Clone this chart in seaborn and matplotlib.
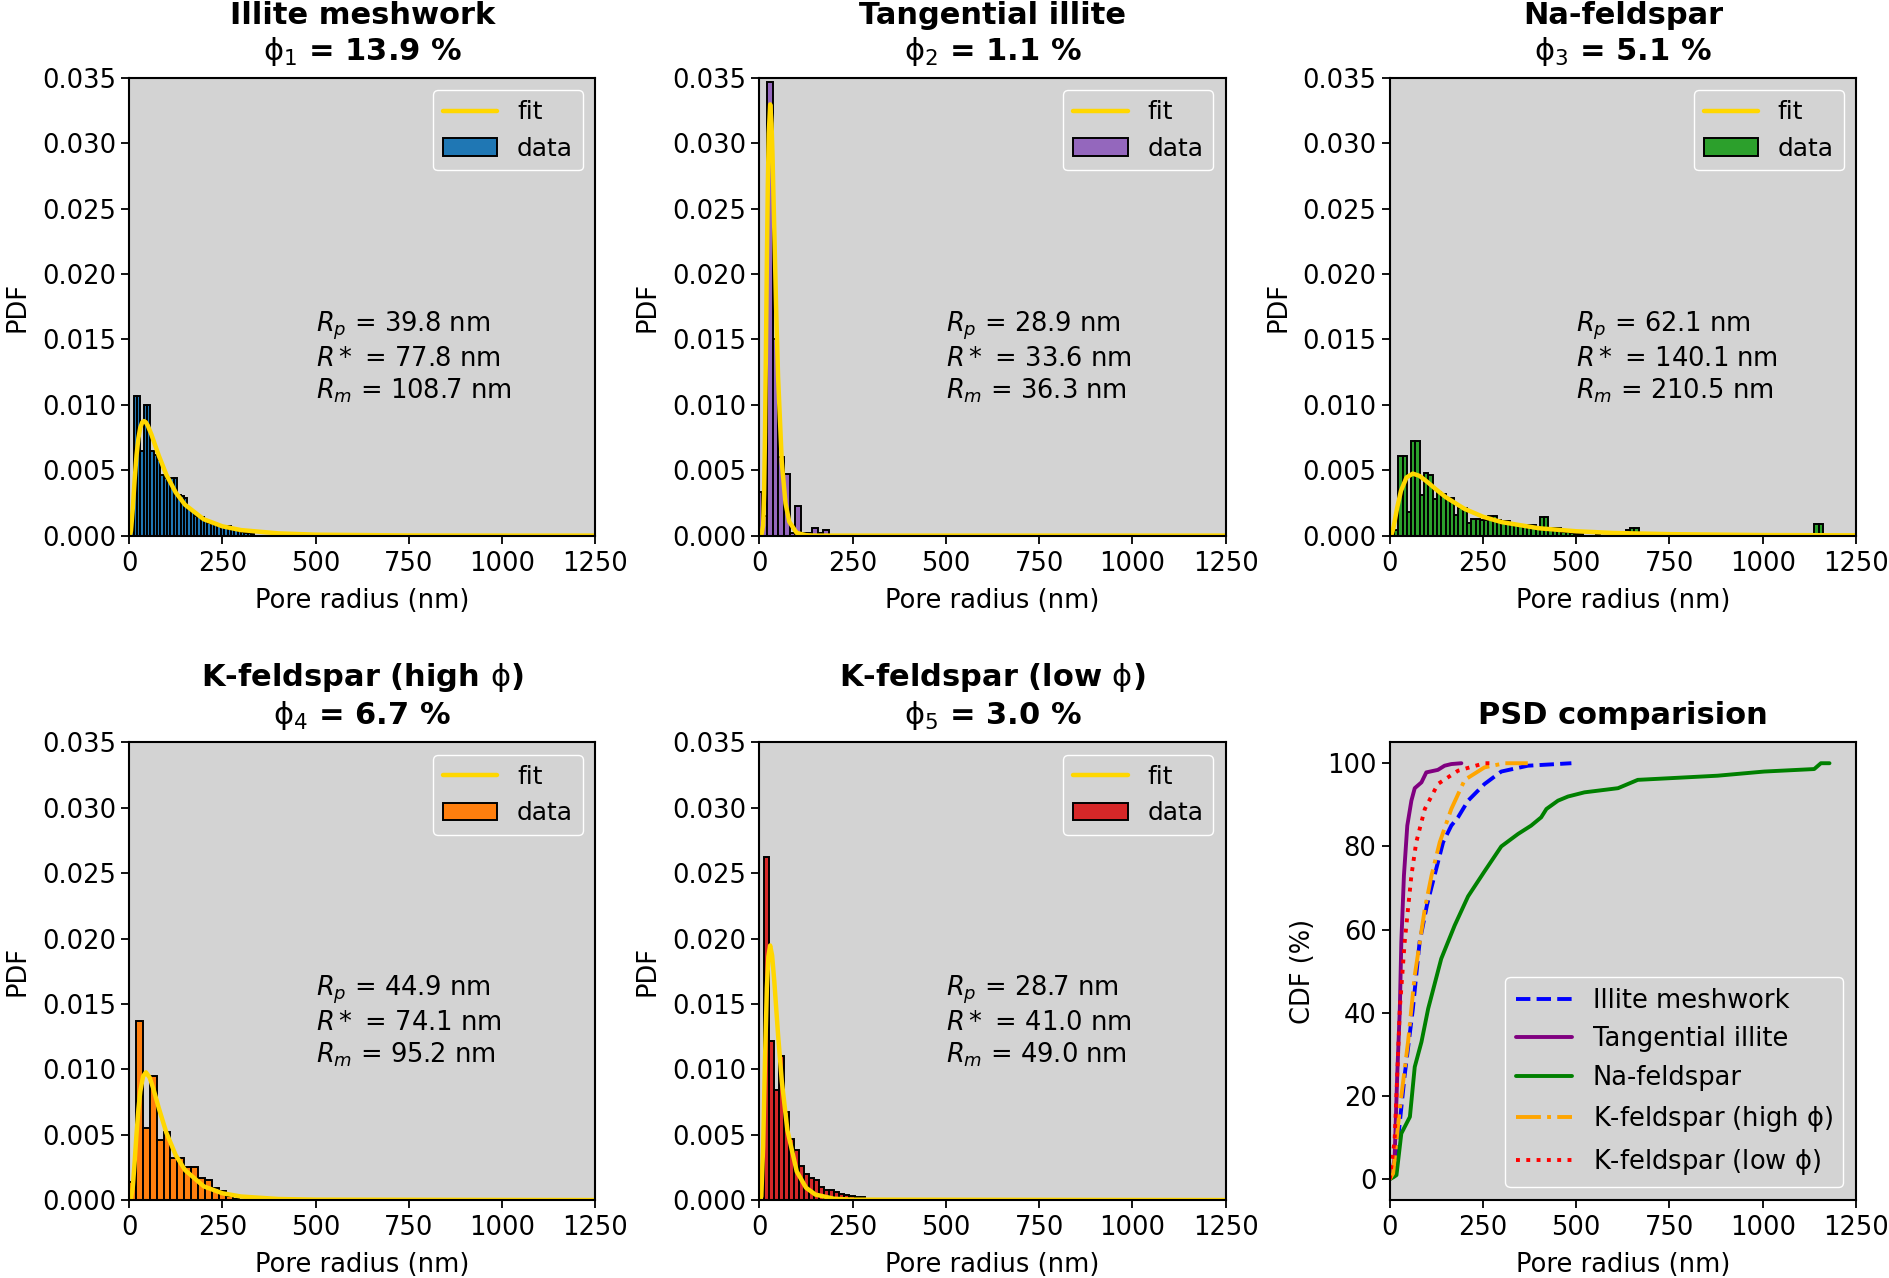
import numpy as np
import matplotlib
matplotlib.use("Agg")
import matplotlib.pyplot as plt
import seaborn as sns

# ---- histogram data (bin start, bin width, pdf heights) ----
illite_start, illite_width = 3, 9
illite_pdf = [0.0005, 0.0107, 0.0107, 0.0065, 0.0100, 0.0100, 0.0065, 0.0062, 0.0058,
              0.0046, 0.0044, 0.0042, 0.0044, 0.0044, 0.0031, 0.0030, 0.0029, 0.0020,
              0.0019, 0.0015, 0.0015, 0.0014, 0.0012, 0.0010, 0.0009, 0.0008, 0.0008,
              0.0007, 0.0007, 0.0007, 0.0006, 0.0005, 0.0004, 0.0003, 0.0002, 0.0002,
              0.0001]

tang_start, tang_width = -9, 15
tang_pdf = [0.0033, 0.0015, 0.0347, 0.0150, 0.0060, 0.0047, 0.0002, 0.0023, 0.0002,
            0.0002, 0.0006, 0.0002, 0.0004]

nafs_start, nafs_width = 0, 11.5
nafs_pdf = [0.0002, 0.0004, 0.0061, 0.0061, 0.0018, 0.0072, 0.0072, 0.0031, 0.0048,
            0.0046, 0.0028, 0.0033, 0.0032, 0.0029, 0.0029, 0.0016, 0.0021, 0.0021,
            0.0010, 0.0013, 0.0013, 0.0012, 0.0012, 0.0015, 0.0015, 0.0012, 0.0011,
            0.0011, 0.0010, 0.0009, 0.0008, 0.0008, 0.0008, 0.0008, 0.0006, 0.0014,
            0.0014, 0.0006, 0.0006, 0.0006, 0.0003, 0.0003, 0.0002, 0.0001]
# isolated large pores (radius nm, pdf)
nafs_tail_r = [515, 560, 626, 638, 650, 661, 1144, 1156]
nafs_tail_pdf = [0.0001, 0.0001, 0.0002, 0.0004, 0.0006, 0.0006, 0.0009, 0.0009]

kfh_start, kfh_width = 0, 18.5
kfh_pdf = [0.0014, 0.0137, 0.0055, 0.0095, 0.0046, 0.0052, 0.0032, 0.0032, 0.0025,
           0.0025, 0.0017, 0.0015, 0.0009, 0.0007, 0.0003, 0.0001]

kfl_start, kfl_width = 12, 13.5
kfl_pdf = [0.0262, 0.0122, 0.0084, 0.0110, 0.0067, 0.0047, 0.0038, 0.0026, 0.0020,
           0.0017, 0.0015, 0.0010, 0.0008, 0.0008, 0.0006, 0.0005, 0.0004, 0.0003,
           0.0002, 0.0002, 0.0001]

# ---- fitted curves, points ----
illite_fit_r = [0, 2, 5, 10, 15, 20, 25, 30, 35, 40, 45, 50, 60, 70, 80, 100, 125, 150,
                200, 250, 300, 400, 500, 750, 1000, 1250]
illite_fit = [0, 0.00001, 0.00035, 0.00211, 0.00431, 0.00615, 0.00745, 0.00825, 0.00865,
              0.00876, 0.00866, 0.00842, 0.00772, 0.00690, 0.00609, 0.00465, 0.00330,
              0.00236, 0.00125, 0.00071, 0.00042, 0.00017, 0.00007, 0.00001, 0, 0]

tang_fit_r = [0, 5, 10, 12.5, 15, 17.5, 20, 22.5, 25, 28.9, 32.5, 35, 40, 45, 50, 60, 70,
              80, 100, 125, 150, 1250]
tang_fit = [0, 0, 0.00079, 0.00321, 0.00792, 0.01431, 0.02104, 0.02679, 0.03076, 0.03298,
            0.03151, 0.02920, 0.02323, 0.01720, 0.01217, 0.00561, 0.00246, 0.00106,
            0.00020, 0.00003, 0, 0]

nafs_fit_r = [0, 5, 10, 20, 30, 45, 62, 80, 100, 125, 150, 200, 250, 300, 400, 500, 600,
              750, 1000, 1250]
nafs_fit = [0, 0.0001, 0.00061, 0.00215, 0.00342, 0.00445, 0.00474, 0.00456, 0.00412,
            0.00351, 0.00294, 0.00205, 0.00144, 0.00103, 0.00056, 0.00033, 0.00020,
            0.00011, 0.00004, 0.00002]

kfh_fit_r = [0, 5, 10, 15, 20, 25, 30, 37.5, 45, 55, 65, 80, 100, 125, 150, 200, 250, 300,
             400, 500, 1250]
kfh_fit = [0, 0.00008, 0.00103, 0.00294, 0.00509, 0.00694, 0.00831, 0.00946, 0.00977,
           0.00938, 0.00852, 0.00700, 0.00515, 0.00343, 0.00229, 0.00105, 0.00052,
           0.00027, 0.00008, 0.00003, 0]

kfl_fit_r = [0, 5, 10, 15, 20, 24, 28.7, 34, 40, 50, 60, 75, 100, 125, 150, 200, 250, 1250]
kfl_fit = [0, 0.00027, 0.0041, 0.01079, 0.01622, 0.01862, 0.01947, 0.01871, 0.01669,
           0.01264, 0.00909, 0.00534, 0.00219, 0.00094, 0.00042, 0.0001, 0.00003, 0]

# ---- cumulative distributions ----
illite_cdf_r = [0, 9, 22, 40, 62, 80, 100, 120, 143, 165, 183, 210, 254, 299, 370, 487]
illite_cdf = [0, 1.5, 9.4, 25, 41, 57, 66, 73, 81, 85, 87, 91, 95, 98, 99.4, 100]
tang_cdf_r = [0, 5, 13, 20, 27, 31, 38, 47, 58, 67, 85, 98, 129, 147, 165, 192]
tang_cdf = [0, 1, 5, 25, 41, 57, 73, 85, 91, 94, 95.4, 97.8, 98.4, 99.4, 99.8, 100]
nafs_cdf_r = [0, 10, 18, 31, 54, 67, 85, 103, 138, 174, 210, 254, 299, 344, 379, 406, 420,
              451, 478, 522, 612, 665, 879, 1004, 1138, 1156, 1179]
nafs_cdf = [0, 0.5, 1, 11, 15, 27, 33, 41, 53, 61, 68, 74, 80, 83, 85, 87, 89, 91, 92, 93,
            94, 96, 97, 98, 98.6, 100, 100]
kfh_cdf_r = [0, 9, 27, 49, 67, 94, 112, 134, 165, 201, 254, 308, 370]
kfh_cdf = [0, 1.4, 17, 33, 49, 65, 73, 81, 89, 96, 99, 100, 100]
kfl_cdf_r = [0, 13, 20, 27, 40, 58, 71, 94, 129, 183, 254, 281]
kfl_cdf = [0, 9.4, 25, 41, 57, 73, 81, 89, 95, 98.2, 100, 100]

titles = ["Illite meshwork", "Tangential illite", "Na-feldspar",
          "K-feldspar (high $\\mathrm{\\phi}$)", "K-feldspar (low $\\mathrm{\\phi}$)"]
porosity = [13.9, 1.1, 5.1, 6.7, 3.0]
r_peak = [39.8, 28.9, 62.1, 44.9, 28.7]
r_star = [77.8, 33.6, 140.1, 74.1, 41.0]
r_mean = [108.7, 36.3, 210.5, 95.2, 49.0]
hist_colors = ["tab:blue", "tab:purple", "tab:green", "tab:orange", "tab:red"]
cdf_labels = ["Illite meshwork", "Tangential illite", "Na-feldspar",
              "K-feldspar (high $\\mathrm{\\phi}$)", "K-feldspar (low $\\mathrm{\\phi}$)"]
cdf_colors = ["blue", "purple", "green", "orange", "red"]
cdf_styles = ["--", "-", "-", "-.", ":"]

sns.set_theme(style="ticks", rc={
    "axes.facecolor": "lightgray", "axes.edgecolor": "black", "axes.linewidth": 1.5,
    "text.color": "black", "axes.labelcolor": "black",
    "xtick.color": "black", "ytick.color": "black",
    "xtick.major.size": 6, "ytick.major.size": 6, "xtick.major.width": 1.3,
    "ytick.major.width": 1.3, "xtick.major.pad": 5, "axes.labelpad": 8,
})
plt.rcParams["font.family"] = ["DejaVu Sans"]
plt.rcParams["mathtext.fontset"] = "dejavusans"

FS = 18.5
fig, axes = plt.subplots(2, 3, figsize=(18.9, 12.78), dpi=100)
fig.subplots_adjust(left=0.0683, right=0.982, bottom=0.061, top=0.939,
                    wspace=0.352, hspace=0.452)

hist_sets = [
    (illite_start, illite_width, illite_pdf, [], []),
    (tang_start, tang_width, tang_pdf, [], []),
    (nafs_start, nafs_width, nafs_pdf, nafs_tail_r, nafs_tail_pdf),
    (kfh_start, kfh_width, kfh_pdf, [], []),
    (kfl_start, kfl_width, kfl_pdf, [], []),
]
fit_sets = [(illite_fit_r, illite_fit), (tang_fit_r, tang_fit), (nafs_fit_r, nafs_fit),
            (kfh_fit_r, kfh_fit), (kfl_fit_r, kfl_fit)]

for i, ax in enumerate(axes.flat[:5]):
    start, width, pdf, tail_r, tail_pdf = hist_sets[i]
    n_bins = len(pdf)
    if tail_r:
        n_bins = int(np.ceil((max(tail_r) - start) / width))
    stop = start + width * n_bins
    centers = list(start + width * (np.arange(len(pdf)) + 0.5)) + list(tail_r)
    weights = list(pdf) + list(tail_pdf)

    fr, fy = fit_sets[i]
    sns.lineplot(x=fr, y=fy, ax=ax, color="gold", lw=3.2, label="fit",
                 errorbar=None, sort=False)
    sns.histplot(x=centers, weights=weights, binwidth=width, binrange=(start, stop),
                 ax=ax, color=hist_colors[i], edgecolor="black", linewidth=1.4,
                 alpha=1, label="data")

    ax.set_xlim(0, 1250)
    ax.set_ylim(0, 0.035)
    ax.set_xticks([0, 250, 500, 750, 1000, 1250])
    ax.set_yticks(np.arange(0, 0.0351, 0.005))
    ax.yaxis.set_major_formatter(matplotlib.ticker.FormatStrFormatter("%.3f"))
    ax.tick_params(labelsize=FS)
    ax.set_xlabel("Pore radius (nm)", fontsize=FS)
    ax.set_ylabel("PDF", fontsize=FS)
    ax.set_title(titles[i] + "\n$\\mathrm{\\phi}_%d$ = %.1f %%" % (i + 1, porosity[i]),
                 fontsize=22, fontweight="bold", pad=13)
    txt = ("$R_p$ = %.1f nm\n$R*$ = %.1f nm\n$R_m$ = %.1f nm"
           % (r_peak[i], r_star[i], r_mean[i]))
    ax.text(0.40, 0.39, txt, transform=ax.transAxes, fontsize=FS, va="center",
            ha="left", linespacing=1.2)
    h, l = ax.get_legend_handles_labels()
    ax.legend(h, l, loc="upper right", fontsize=17.8, framealpha=1, edgecolor="white",
              borderpad=0.4, handlelength=2.2)
    for s in ax.spines.values():
        s.set_visible(True)

# cumulative comparison
ax = axes.flat[5]
cdf_sets = [(illite_cdf_r, illite_cdf), (tang_cdf_r, tang_cdf), (nafs_cdf_r, nafs_cdf),
            (kfh_cdf_r, kfh_cdf), (kfl_cdf_r, kfl_cdf)]
for (r, c), lab, col, ls in zip(cdf_sets, cdf_labels, cdf_colors, cdf_styles):
    sns.lineplot(x=r, y=c, ax=ax, color=col, linestyle=ls, lw=2.8, label=lab,
                 errorbar=None, sort=False)
ax.set_xlim(0, 1250)
ax.set_ylim(-5, 105)
ax.set_xticks([0, 250, 500, 750, 1000, 1250])
ax.set_yticks([0, 20, 40, 60, 80, 100])
ax.tick_params(labelsize=FS)
ax.set_xlabel("Pore radius (nm)", fontsize=FS)
ax.set_ylabel("CDF (%)", fontsize=FS)
ax.set_title("PSD comparision", fontsize=22, fontweight="bold", pad=13)
ax.legend(loc="lower right", fontsize=FS, framealpha=1, edgecolor="white",
          handlelength=2.2)
for s in ax.spines.values():
    s.set_visible(True)

fig.savefig("out.png", dpi=100, facecolor="white")
